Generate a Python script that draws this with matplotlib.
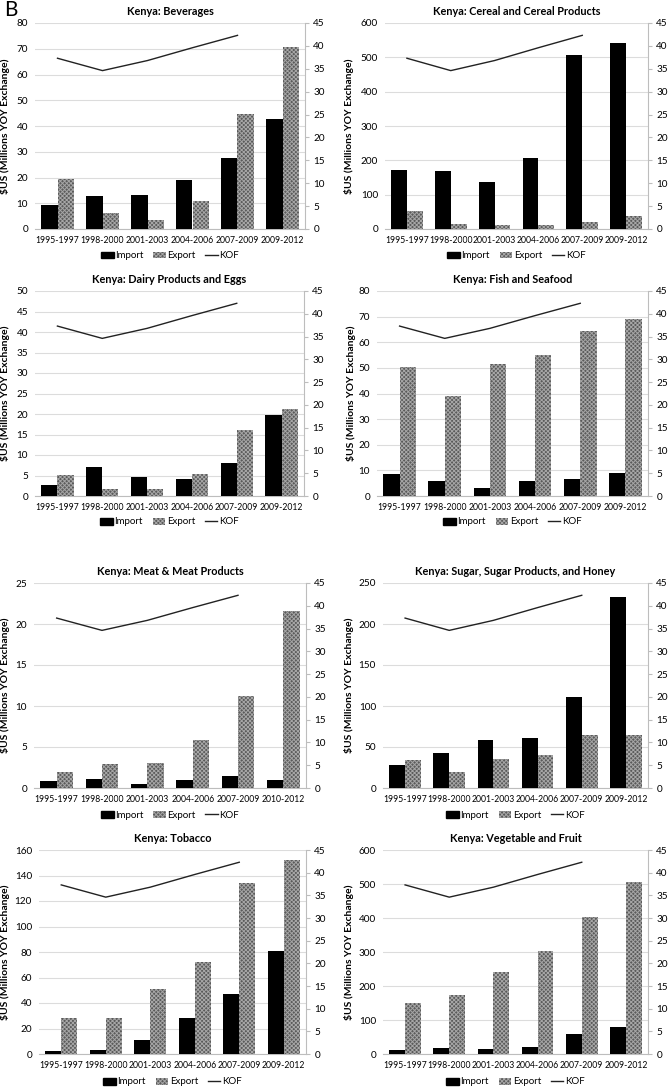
import matplotlib
matplotlib.use("Agg")
import matplotlib.pyplot as plt
from matplotlib.patches import Patch
from matplotlib.lines import Line2D
import numpy as np

plt.rcParams['font.family'] = ['Lato', 'DejaVu Sans']
plt.rcParams['hatch.linewidth'] = 0.7

periods = ["1995-1997", "1998-2000", "2001-2003", "2004-2006", "2007-2009", "2009-2012"]
periods_meat = ["1995-1997", "1998-2000", "2001-2003", "2004-2006", "2007-2009", "2010-2012"]
kof = [37.3, 34.6, 36.8, 39.6, 42.3]

bev_import = [9.2, 12.9, 13.3, 19.2, 27.4, 42.7]
bev_export = [19.4, 6.1, 3.5, 10.9, 44.5, 70.7]
cer_import = [172, 168, 137, 206, 508, 543]
cer_export = [52, 15, 12, 12, 21, 38]
dai_import = [2.7, 7.0, 4.7, 4.1, 8.1, 19.8]
dai_export = [5.2, 1.7, 1.8, 5.4, 16.0, 21.3]
fis_import = [8.7, 5.9, 3.1, 5.7, 6.7, 8.9]
fis_export = [50.3, 39.0, 51.7, 55.2, 64.2, 69.0]
mea_import = [0.9, 1.15, 0.45, 1.0, 1.5, 0.95]
mea_export = [1.9, 2.9, 3.0, 5.9, 11.2, 21.6]
sug_import = [28, 43, 58, 61, 111, 233]
sug_export = [34, 19, 35, 40, 65, 65]
tob_import = [2.5, 3.2, 11, 28, 47, 81]
tob_export = [28, 28, 51, 72, 134, 152]
veg_import = [12, 18, 14, 22, 59, 79]
veg_export = [150, 175, 240, 302, 403, 505]

titles = ["Kenya: Beverages", "Kenya: Cereal and Cereal Products",
          "Kenya: Dairy Products and Eggs", "Kenya: Fish and Seafood",
          "Kenya: Meat & Meat Products", "Kenya: Sugar, Sugar Products, and Honey",
          "Kenya: Tobacco", "Kenya: Vegetable and Fruit"]

W, H = 670, 1087
# (left, top, right, bottom) in pixels, ymax, ystep, import, export, cats, legend_y, ylabel_x
panels = [
    ((35, 23, 305, 229), 80, 10, bev_import, bev_export, periods, 256, 10),
    ((385, 23, 648, 229), 600, 100, cer_import, cer_export, periods, 256, 354),
    ((35, 291, 304, 496), 50, 5, dai_import, dai_export, periods, 522, 10),
    ((377, 291, 648, 496), 80, 10, fis_import, fis_export, periods, 522, 356),
    ((34, 583, 306, 788), 25, 5, mea_import, mea_export, periods_meat, 815, 10),
    ((383, 583, 648, 788), 250, 50, sug_import, sug_export, periods, 815, 354),
    ((39, 850, 306, 1054), 160, 20, tob_import, tob_export, periods, 1082, 10),
    ((383, 850, 648, 1054), 600, 100, veg_import, veg_export, periods, 1082, 354),
]

fig = plt.figure(figsize=(W / 100, H / 100), dpi=100)
fig.patch.set_facecolor('white')

grey_spine = '#bdbdbd'
exp_face = '#5a5a5a'
exp_hatch = '#a6a6a6'
bw = 0.36

for (box, ymax, ystep, imp, exp, cats, ly, ylx), title in zip(panels, titles):
    l, t, r, b = box
    ax = fig.add_axes([l / W, 1 - b / H, (r - l) / W, (b - t) / H])
    x = np.arange(len(cats))
    ax.bar(x - bw / 2, imp, bw, color='black', zorder=3)
    ax.bar(x + bw / 2, exp, bw, facecolor=exp_face, hatch='xxxxxxxx', edgecolor=exp_hatch,
           linewidth=0, zorder=3)
    ax.set_xlim(-0.5, len(cats) - 0.5)
    ax.set_ylim(0, ymax)
    ax.set_yticks(np.arange(0, ymax + ystep / 2, ystep))
    ax.set_xticks(x)
    ax.set_xticklabels(cats, fontsize=6.2)
    ax.tick_params(axis='y', labelsize=7.2, length=0, pad=5)
    ax.tick_params(axis='x', length=0, pad=5)
    ax.grid(axis='y', color='#dcdcdc', linewidth=0.8, zorder=0)
    for s in ['top', 'left', 'right']:
        ax.spines[s].set_visible(False)
    ax.spines['bottom'].set_color(grey_spine)
    ax.set_ylabel("$US (Millions YOY Exchange)", fontsize=7.5, fontweight='bold')
    ax.yaxis.set_label_coords((ylx - l) / (r - l), 0.5)
    ax.set_title(title, fontsize=7.8, fontweight='bold', pad=6)

    ax2 = ax.twinx()
    ax2.plot(x[:len(kof)], kof, color='#222222', linewidth=1.0, zorder=4)
    ax2.set_ylim(0, 45)
    ax2.set_yticks(np.arange(0, 46, 5))
    ax2.tick_params(axis='y', labelsize=7.2, length=3, color=grey_spine, pad=3)
    for s in ['top', 'left', 'bottom']:
        ax2.spines[s].set_visible(False)
    ax2.spines['right'].set_color(grey_spine)

    handles = [Patch(facecolor='black', edgecolor='black'),
               Patch(facecolor=exp_face, hatch='xxxxxxxx', edgecolor=exp_hatch, linewidth=0),
               Line2D([0], [0], color='#222222', linewidth=1.0)]
    fig.legend(handles, ["Import", "Export", "KOF"], loc='center',
               bbox_to_anchor=(((l + r) / 2) / W, 1 - ly / H), ncol=3, frameon=False,
               fontsize=7, handlelength=1.3, handleheight=0.7, handletextpad=0.15,
               columnspacing=1.0)

fig.text(4 / W, 1 - 10 / H, "B", fontsize=15, va='center', ha='left')

fig.savefig("out.png", dpi=100, facecolor='white')
